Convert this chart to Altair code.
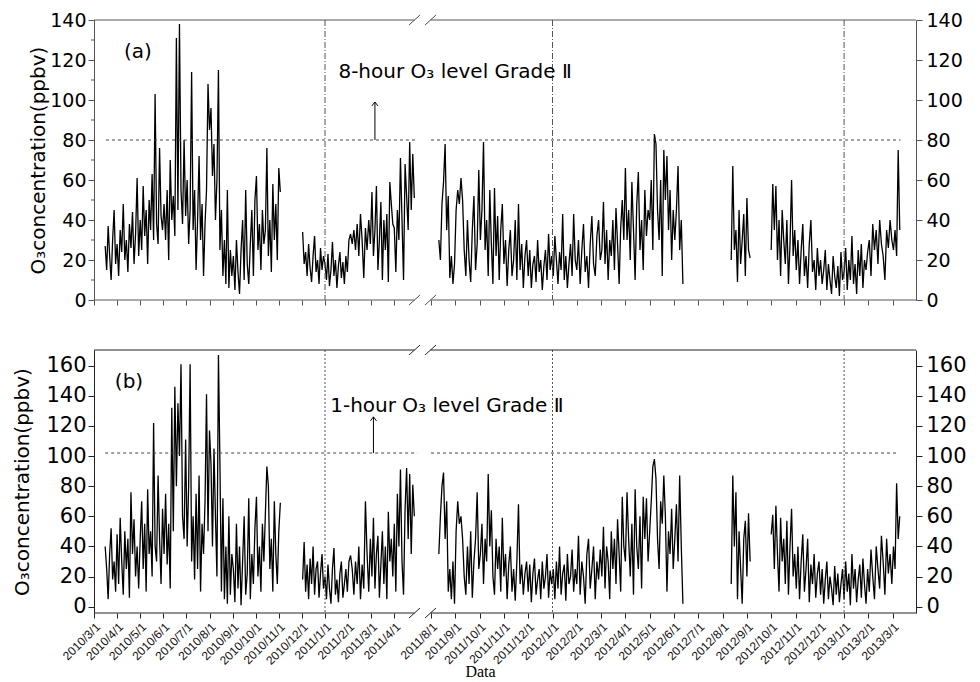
import json
import calendar
import datetime as dt
import altair as alt
import pandas as pd

# ---------------- data ----------------
PRE_LABELS = ["2010/3/1", "2010/4/1", "2010/5/1", "2010/6/1", "2010/7/1", "2010/8/1",
              "2010/9/1", "2010/10/1", "2010/11/1", "2010/12/1", "2011/1/1", "2011/2/1",
              "2011/3/1", "2011/4/1"]
POST_LABELS = ["2011/8/1", "2011/9/1", "2011/10/1", "2011/11/1", "2011/12/1", "2012/1/1",
               "2012/2/1", "2012/3/1", "2012/4/1", "2012/5/1", "2012/6/1", "2012/7/1",
               "2012/8/1", "2012/9/1", "2012/10/1", "2012/11/1", "2012/12/1", "2013/1/1",
               "2013/2/1", "2013/3/1"]

SEG_STARTS = ["2010-03-16", "2010-12-02", "2011-08-11", "2012-08-12", "2012-10-01"]
STEP_DAYS = 2

# (a) 8-hour O3 (ppbv), one reading every 2 days per segment
a_seg1 = [27, 15, 37, 22, 10, 30, 45, 18,
          28, 12, 35, 24, 48, 20, 30, 14, 38, 26, 44, 18, 33, 61, 22,
          40, 25, 57, 32, 45, 18, 50, 35, 63, 30, 103, 38, 28, 76, 42, 35,
          48, 30, 55, 20, 70, 40, 52, 32, 131, 45, 138, 55, 38, 80, 42,
          60, 28, 45, 114, 35, 55, 15, 40, 72, 30, 48, 12, 38, 55, 108,
          85, 96, 62, 78, 40, 60, 115, 25, 45, 12, 30, 8, 55, 6, 25, 12,
          22, 5, 30, 14, 3, 25, 40, 10, 55, 18, 8, 28, 45, 12, 50,
          62, 25, 38, 15, 45, 28, 35, 76, 22, 40, 14, 58, 30, 48, 20, 66, 54]
a_seg2 = [34, 18, 24, 12, 28, 16, 9, 22, 32, 14, 20, 8, 26, 15, 22,
          18, 10, 23, 7, 15, 29, 12, 20, 6, 17, 24, 11, 19, 8, 22, 14,
          30, 33, 28, 35, 25, 38, 22, 43, 30, 11, 36, 25, 40, 28,
          54, 22, 35, 57, 15, 30, 49, 10, 40, 25, 43, 9, 59, 48, 38,
          36, 14, 45, 30, 71, 40, 10, 68, 52, 35, 79, 45, 73, 51]
a_seg3 = [30, 20, 48, 59, 78, 35, 52, 11, 22, 8, 18,
          45, 55, 48, 61, 50, 25, 12, 40, 20, 9, 35, 52, 15, 28, 65,
          30, 45, 79, 25, 40, 12, 55, 28, 8, 56, 22, 42, 10, 35, 48,
          18, 30, 7, 25, 35, 12, 20, 40, 10, 48, 15, 28, 6, 22, 30,
          12, 25, 6, 18, 22, 9, 30, 14, 20, 5, 17, 25, 10, 33, 15, 22,
          12, 32, 20, 8, 24, 15, 43, 10, 22, 6, 18, 28, 12, 43, 20,
          15, 30, 8, 25, 38, 14, 22, 6, 28, 42, 18, 12, 32, 40, 20,
          25, 49, 18, 35, 10, 30, 22, 40, 15, 46, 28, 8, 36, 50, 30,
          66, 30, 45, 20, 59, 35, 10, 48, 64, 25, 40, 15, 55, 32, 45,
          40, 60, 25, 83, 78, 45, 30, 60, 12, 75, 50, 72, 35, 55, 20, 45,
          30, 45, 67, 25, 40, 8]
a_seg4 = [20, 67, 25, 35, 9, 45, 18, 30, 43, 12, 51, 25, 21]
a_seg5 = [25, 58, 35, 57, 20, 40, 12, 45, 30, 18, 40, 8, 28, 60, 22, 35,
          15, 30, 8, 25, 38, 12, 22, 6, 28, 40, 14, 20, 5, 26, 12,
          20, 8, 15, 25, 5, 18, 10, 3, 22, 12, 6, 17, 2, 24, 10,
          14, 26, 5, 20, 10, 32, 8, 18, 3, 25, 12, 28, 6, 20, 15, 24,
          30, 12, 38, 25, 35, 18, 40, 28, 22, 10, 35, 26, 40, 30,
          25, 35, 22, 75, 35]

# (b) 1-hour O3 (ppbv)
b_seg1 = [40, 25, 5, 35, 52, 18, 30, 10,
          48, 15, 59, 30, 8, 50, 25, 45, 6, 76, 35, 58, 20, 40, 12,
          45, 70, 25, 55, 10, 78, 35, 50, 20, 122, 40, 30, 87, 45, 15, 65,
          35, 75, 28, 55, 12, 132, 50, 146, 80, 135, 100, 161, 60, 45, 111,
          40, 80, 161, 30, 60, 18, 75, 25, 87, 10, 55, 35, 70, 141, 50,
          117, 95, 40, 105, 60, 20, 167, 95, 10, 72, 5, 40, 2, 60, 8, 35,
          25, 3, 55, 12, 40, 1, 30, 60, 8, 22, 72, 5, 35, 15, 52,
          73, 20, 40, 10, 55, 30, 62, 93, 80, 25, 45, 10, 70, 35, 15, 50, 69]
b_seg2 = [18, 43, 10, 28, 5, 32, 15, 40, 8, 25, 30, 6, 22, 35, 12,
          20, 5, 28, 12, 2, 25, 39, 8, 18, 3, 22, 30, 6, 15, 25, 10,
          30, 34, 25, 8, 30, 15, 40, 5, 28, 12, 70, 35, 10, 45,
          20, 59, 12, 35, 47, 6, 28, 50, 15, 40, 5, 63, 30, 45, 20,
          55, 10, 75, 40, 91, 30, 8, 65, 92, 45, 88, 35, 81, 60]
b_seg3 = [35, 60, 80, 89, 45, 70, 10, 25, 5, 30, 2,
          50, 70, 55, 60, 45, 20, 8, 40, 15, 50, 6, 30, 45, 76, 25,
          35, 55, 15, 45, 30, 88, 40, 64, 20, 8, 45, 25, 40, 10, 59,
          20, 35, 5, 28, 40, 10, 25, 4, 30, 68, 15, 28, 8, 22, 30,
          10, 28, 3, 22, 32, 8, 18, 25, 5, 30, 12, 20, 35, 6, 24, 15,
          25, 5, 30, 12, 40, 8, 22, 28, 4, 35, 15, 20, 38, 10, 25,
          15, 47, 8, 30, 20, 2, 35, 45, 12, 25, 40, 5, 30, 18, 38,
          20, 53, 12, 40, 30, 5, 50, 25, 45, 15, 58, 35, 10, 73, 40,
          30, 76, 45, 20, 55, 8, 78, 40, 25, 60, 12, 73, 45, 72, 30,
          50, 70, 93, 98, 85, 45, 25, 70, 55, 87, 60, 10, 50, 35, 65, 25,
          45, 68, 30, 87, 40, 2]
b_seg4 = [15, 87, 40, 76, 5, 50, 25, 2, 45, 57, 20, 62, 30]
b_seg5 = [48, 61, 25, 67, 35, 10, 59, 30, 45, 15, 57, 8, 40, 65, 20, 35,
          12, 40, 5, 30, 48, 10, 25, 45, 3, 28, 15, 35, 6, 22, 30,
          8, 25, 2, 18, 30, 5, 20, 12, 1, 27, 8, 22, 3, 15, 25,
          5, 30, 10, 22, 1, 35, 12, 25, 3, 18, 28, 6, 32, 15, 2, 25,
          10, 38, 20, 5, 40, 25, 12, 47, 30, 8, 45, 22, 35, 15,
          40, 25, 82, 45, 60]

A_LIMIT = 80
B_LIMIT = 102
a_limit_spans = [["2010-03-17", "2011-04-28"], ["2011-08-01", "2013-03-11"]]
b_limit_spans = [["2010-03-16", "2011-05-01"], ["2011-08-01", "2013-03-07"]]
YEAR_LINES = ["2011-01-01", "2012-01-01", "2013-01-01"]
a_arrow = ["2011-03-06", 80, 99]
b_arrow = ["2011-03-04", 102, 126]
a_notes = [["2010-04-10", 124, "(a)"], ["2011-01-19", 114, "8-hour O\u2083 level Grade \u2161"]]
b_notes = [["2010-03-29", 149, "(b)"], ["2011-01-08", 133, "1-hour O\u2083 level Grade \u2161"]]

# ---------------- broken time axis ----------------
PRE_PX = 23.1      # axis units per month before the break
POST_X0 = 337.0    # position of 2011/8/1
POST_PX = 24.3     # axis units per month after the break
X_MAX = 822
BREAK_SLASHES = [[315, 326], [331, 342]]
FRAME_PARTS = [[0, 320.5], [336.5, X_MAX]]


def xpos(d):
    if isinstance(d, str):
        d = dt.date.fromisoformat(d)
    dim = calendar.monthrange(d.year, d.month)[1]
    frac = (d.day - 1) / dim
    if d < dt.date(2011, 6, 1):
        m = (d.year - 2010) * 12 + d.month - 3 + frac
        return round(PRE_PX * m, 2)
    k = (d.year - 2011) * 12 + d.month - 8 + frac
    return round(POST_X0 + POST_PX * k, 2)


def lab_date(s):
    y, m, _ = s.split("/")
    return dt.date(int(y), int(m), 1)


TICK_LABELS = PRE_LABELS + POST_LABELS
TICK_VALS = [xpos(lab_date(s)) for s in TICK_LABELS]
LABEL_EXPR = f"{json.dumps(TICK_LABELS)}[indexof({json.dumps(TICK_VALS)}, datum.value)]"


def series_df(segs):
    rows = []
    for si, (start, vals) in enumerate(zip(SEG_STARTS, segs)):
        d0 = dt.date.fromisoformat(start)
        for i, v in enumerate(vals):
            rows.append({"x": xpos(d0 + dt.timedelta(days=STEP_DAYS * i)), "v": v, "seg": si})
    return pd.DataFrame(rows)


def panel(segs, ydom, H, yvals, limit, spans, arrow, notes, labels_on, minor, lab_size,
          frame_col, vline_dash, tpad):
    xs = alt.Scale(domain=[0, X_MAX], nice=False, zero=False)
    ys = alt.Scale(domain=ydom, nice=False, zero=False)
    if labels_on:
        xaxis = alt.Axis(values=TICK_VALS, labelExpr=LABEL_EXPR, labelAngle=315,
                         labelFont="Liberation Sans", labelFontSize=12, labelColor="#111",
                         labelPadding=3, labelOverlap=False, labelBound=False, domain=False,
                         tickSize=5, tickColor=frame_col, grid=False, title="Data",
                         titleFont="Liberation Serif", titleFontSize=16,
                         titleFontWeight="normal", titleColor="black",
                         titleX=386, titleY=58, titleAlign="center", titleBaseline="middle")
    else:
        xaxis = alt.Axis(values=TICK_VALS, labels=False, domain=False, tickSize=5,
                         tickColor=frame_col, grid=False, title=None)
    left_axis = alt.Axis(values=yvals, orient="left", grid=False, domainColor=frame_col,
                         tickColor=frame_col, tickSize=6, labelFont="DejaVu Sans",
                         labelFontSize=lab_size, labelColor="black", labelPadding=2,
                         title="O\u2083concentration(ppbv)", titleFont="DejaVu Sans",
                         titleFontSize=20, titleFontWeight="normal", titleColor="black",
                         titlePadding=tpad)
    right_axis = alt.Axis(values=yvals, orient="right", grid=False, domainColor=frame_col,
                          tickColor=frame_col, tickSize=6, labelFont="DejaVu Sans",
                          labelFontSize=lab_size, labelColor="black", labelPadding=4,
                          title=None)

    df = series_df(segs)
    line = alt.Chart(df).mark_line(color="black", strokeWidth=1.3).encode(
        x=alt.X("x:Q", scale=xs, axis=xaxis),
        y=alt.Y("v:Q", scale=ys, axis=left_axis),
        detail="seg:N",
    )

    lim_df = pd.DataFrame([{"x": xpos(a), "x2": xpos(b), "v": limit} for a, b in spans])
    lim = alt.Chart(lim_df).mark_rule(color="#444", strokeDash=[3, 3], strokeWidth=1).encode(
        x=alt.X("x:Q", axis=None), x2="x2:Q", y=alt.Y("v:Q", axis=right_axis))

    yl_df = pd.DataFrame({"x": [xpos(s) for s in YEAR_LINES]})
    ylines = alt.Chart(yl_df).mark_rule(color="#555", strokeDash=vline_dash, strokeWidth=1).encode(
        x=alt.X("x:Q", axis=None))

    ar_df = pd.DataFrame([{"x": xpos(arrow[0]), "v": arrow[1], "v2": arrow[2]}])
    ar = alt.Chart(ar_df).mark_rule(color="black", strokeWidth=1).encode(
        x=alt.X("x:Q", axis=None), y=alt.Y("v:Q", axis=None), y2="v2:Q")
    head = alt.Chart(ar_df).mark_point(shape="M-1,1.3L0,0L1,1.3", size=36, filled=False,
                                       color="black", opacity=1, strokeWidth=1).encode(
        x=alt.X("x:Q", axis=None), y=alt.Y("v2:Q", axis=None))

    nt_df = pd.DataFrame([{"x": xpos(d), "v": v, "t": t} for d, v, t in notes])
    nts = alt.Chart(nt_df).mark_text(align="left", baseline="middle", font="DejaVu Sans",
                                     fontSize=20, color="black").encode(
        x=alt.X("x:Q", axis=None), y=alt.Y("v:Q", axis=None), text="t:N")

    fr_df = pd.DataFrame([{"x": a, "x2": b} for a, b in FRAME_PARTS])
    top = alt.Chart(fr_df).mark_rule(color=frame_col, strokeWidth=1).encode(
        x=alt.X("x:Q", axis=None), x2="x2:Q", y=alt.value(0))
    bot = alt.Chart(fr_df).mark_rule(color=frame_col, strokeWidth=1).encode(
        x=alt.X("x:Q", axis=None), x2="x2:Q", y=alt.value(H))

    sl_df = pd.DataFrame([{"x": a, "x2": b} for a, b in BREAK_SLASHES])
    sl_top = alt.Chart(sl_df).mark_rule(color=frame_col, strokeWidth=1).encode(
        x=alt.X("x:Q", axis=None), x2="x2:Q", y=alt.value(5), y2=alt.value(-5))
    sl_bot = alt.Chart(sl_df).mark_rule(color=frame_col, strokeWidth=1).encode(
        x=alt.X("x:Q", axis=None), x2="x2:Q", y=alt.value(H + 5), y2=alt.value(H - 5))

    layers = [line, lim, ylines, ar, head, nts, top, bot, sl_top, sl_bot]
    if minor:
        mn_df = pd.DataFrame({"v": minor})
        layers.append(alt.Chart(mn_df).mark_rule(color=frame_col, strokeWidth=1).encode(
            y=alt.Y("v:Q", axis=None), x=alt.value(-3), x2=alt.value(0)))

    return alt.layer(*layers).resolve_axis(x="independent", y="independent").properties(
        width=X_MAX, height=H)


A_MINOR = [10, 30, 50, 70, 90, 110, 130]
pa = panel([a_seg1, a_seg2, a_seg3, a_seg4, a_seg5], [0, 140], 280, list(range(0, 141, 20)),
           A_LIMIT, a_limit_spans, a_arrow, a_notes, False, A_MINOR, 19, "#555", [6, 2, 1, 2], 1)
pb = panel([b_seg1, b_seg2, b_seg3, b_seg4, b_seg5], [-4.2, 170.4], 263, list(range(0, 161, 20)),
           B_LIMIT, b_limit_spans, b_arrow, b_notes, True, None, 21, "#222", [2, 2], 13)

chart = alt.vconcat(pa, pb, spacing=34).properties(
    padding={"left": 12, "top": 11, "right": 5, "bottom": 0},
    background="white",
).configure_view(stroke=None)

chart.save("out.html", embed_options={"renderer": "svg", "actions": False})
